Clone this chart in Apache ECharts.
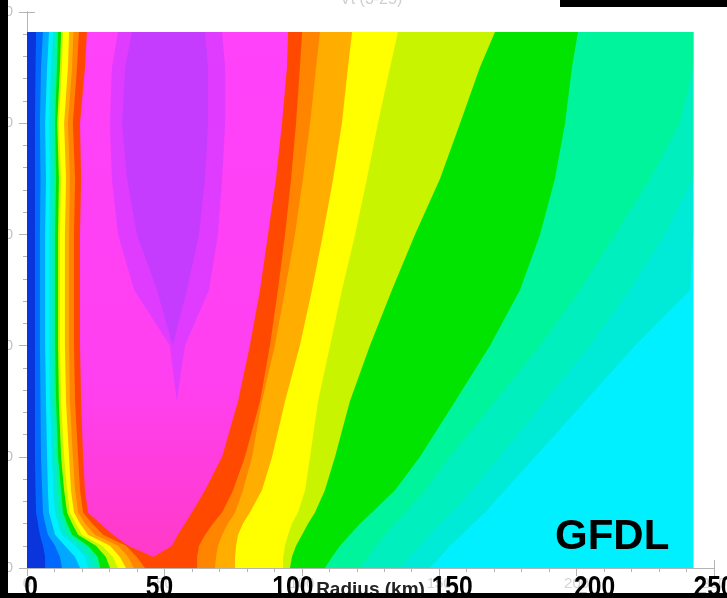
<!DOCTYPE html>
<html>
<head>
    <meta charset="utf-8">
    <title>GFDL radius-height</title>
    <script src="https://cdn.jsdelivr.net/npm/echarts@6/dist/echarts.min.js"></script>
    <style>
        body { margin: 0; background: #000; }
    </style>
</head>
<body>
    <div id="main" style="width: 727px;height:598px;"></div>

    <script type="text/javascript">
        // heights of the sampled rows, bottom to top
        var heights = [0, 1, 2, 3, 4, 5, 7, 10, 15, 20, 25, 30, 35, 40, 45, 48.2]
        var rMax = 242.4
        var zTop = 48.2
        var xTickValues = [0, 50, 100, 150, 200, 250]
        var xTickLabels = ['0', '50', '100', '150', '200', '250']
        var yTickLabels = ['0', '10', '20', '30', '40', '50']

        // radius (km) where each colour band starts (inner edge) and ends (outer edge), per height
        var beyond = [250, 250, 250, 250, 250, 250, 250, 250, 250, 250, 250, 250, 250, 250, 250, 250]
        var axisEdge = [0, 0, 0, 0, 0, 0, 0, 0, 0, 0, 0, 0, 0, 0, 0, 0]
        var inBlue = [6.6, 6.6, 5.8, 4.7, 4.0, 3.3, 3.1, 2.9, 2.9, 2.9, 2.9, 2.9, 2.9, 2.9, 3.1, 3.3]
        var inLightBlue = [12.7, 12.0, 10.2, 7.6, 6.6, 5.8, 5.5, 5.1, 4.9, 4.7, 4.7, 4.7, 4.9, 4.7, 5.1, 5.8]
        var inCyan = [19.3, 17.5, 13.8, 10.2, 9.1, 8.0, 7.6, 7.3, 6.9, 6.6, 6.6, 6.6, 6.9, 6.6, 7.3, 8.0]
        var inTurquoise = [22.2, 21.1, 17.5, 12.7, 11.3, 10.2, 9.5, 9.1, 8.4, 8.0, 8.0, 8.0, 8.4, 8.0, 8.7, 9.5]
        var outTurquoise = [146.6, 150.3, 153.9, 158.3, 162.3, 166.7, 173.9, 184.9, 203.1, 221.3, 241.3, 250, 250, 250, 250, 250]
        var inAqua = [24.0, 22.9, 19.3, 14.2, 12.7, 11.3, 10.6, 9.8, 9.1, 8.7, 8.7, 8.7, 9.1, 8.7, 9.5, 10.2]
        var outAqua = [135.7, 139.4, 143.0, 146.6, 150.3, 154.7, 161.9, 172.1, 188.5, 204.9, 219.4, 232.2, 250, 250, 250, 250]
        var inSpring = [25.5, 24.4, 20.7, 15.3, 13.5, 12.0, 11.3, 10.6, 9.8, 9.5, 9.5, 9.5, 9.8, 9.5, 10.2, 10.6]
        var outSpring = [121.2, 124.1, 127.0, 130.3, 133.9, 137.6, 144.8, 153.9, 170.3, 186.7, 201.2, 214.0, 226.7, 237.6, 250, 250]
        var inGreen = [26.6, 25.8, 22.2, 16.4, 14.6, 13.1, 12.4, 11.3, 10.6, 10.2, 10.2, 10.2, 10.6, 10.2, 10.9, 11.3]
        var outGreen = [108.4, 111.0, 113.9, 117.5, 121.2, 125.5, 133.9, 143.0, 155.8, 168.5, 179.4, 186.7, 192.1, 195.8, 198.3, 200.5]
        var inLime = [30.2, 28.7, 25.1, 18.6, 16.4, 14.6, 13.5, 12.4, 11.6, 11.3, 11.3, 11.3, 11.6, 11.0, 12.0, 12.4]
        var outLime = [95.7, 96.4, 97.9, 100.1, 102.3, 104.8, 108.4, 112.1, 117.5, 124.8, 132.8, 141.2, 150.3, 157.6, 164.8, 170.3]
        var inYellow = [33.1, 31.3, 27.3, 20.0, 17.8, 15.6, 14.6, 13.5, 12.4, 12.0, 12.0, 12.0, 12.4, 11.6, 12.7, 13.1]
        var outYellow = [93.2, 93.2, 93.9, 95.0, 96.4, 98.6, 101.2, 103.0, 105.9, 110.3, 114.6, 119.4, 123.7, 127.7, 132.1, 135.0]
        var inAmber = [36.0, 33.8, 30.2, 22.2, 19.3, 17.1, 16.0, 15.3, 14.2, 13.8, 13.8, 13.8, 14.2, 13.5, 14.9, 15.3]
        var outAmber = [75.7, 75.7, 76.1, 76.8, 78.6, 81.1, 85.5, 89.2, 93.9, 99.3, 103.7, 107.7, 111.4, 114.6, 116.8, 118.3]
        var inOrange = [38.9, 36.8, 33.1, 24.7, 21.1, 18.6, 17.5, 16.7, 15.6, 15.3, 15.3, 15.3, 15.6, 14.9, 16.4, 16.9]
        var outOrange = [68.4, 68.8, 69.5, 71.0, 73.1, 75.7, 78.6, 81.9, 85.5, 90.2, 93.9, 97.5, 100.4, 103.0, 105.2, 106.6]
        var inRed = [42.9, 40.0, 36.0, 27.7, 23.7, 20.4, 19.3, 18.6, 17.5, 17.1, 17.1, 17.1, 17.5, 16.7, 18.2, 18.9]
        var outRed = [61.9, 61.9, 62.6, 64.8, 67.7, 71.0, 75.0, 79.3, 84.8, 88.4, 91.3, 93.9, 96.1, 97.9, 99.3, 100.1]
        var inMagenta = [46.0, 46.0, 36.8, 31.3, 26.6, 22.2, 21.1, 20.4, 19.7, 19.3, 19.3, 19.3, 19.7, 19.3, 21.1, 21.8]
        var outMagenta = [46.0, 46.0, 52.8, 54.9, 57.5, 60.0, 64.8, 71.0, 76.8, 81.1, 84.8, 87.7, 90.6, 92.8, 94.6, 95.0]
        var inViolet = [54.5, 54.5, 54.5, 54.5, 54.5, 54.5, 54.5, 54.5, 54.5, 52.0, 39.0, 33.1, 30.9, 30.2, 30.9, 33.1]
        var outViolet = [54.5, 54.5, 54.5, 54.5, 54.5, 54.5, 54.5, 54.5, 54.5, 57.5, 66.2, 69.5, 71.0, 72.1, 72.1, 71.0]
        var inPurple = [53.0, 53.0, 53.0, 53.0, 53.0, 53.0, 53.0, 53.0, 53.0, 53.0, 47.3, 40.0, 36.4, 34.6, 35.7, 38.2]
        var outPurple = [53.0, 53.0, 53.0, 53.0, 53.0, 53.0, 53.0, 53.0, 53.0, 53.0, 58.2, 62.6, 64.8, 65.9, 65.9, 64.8]

        // the strongest pink band turns a little rosier towards the surface
        var pinkFill = new echarts.graphic.LinearGradient(0, 0, 0, 1, [
            {offset: 0, color: '#ff42fb'},
            {offset: 0.65, color: '#ff40f0'},
            {offset: 1, color: '#ff3ac6'}
        ])

        // bands painted from weakest to strongest wind
        var bands = [
            {color: '#0a34dc', inner: axisEdge, outer: beyond},
            {color: '#0068ff', inner: inBlue, outer: beyond},
            {color: '#00a8ff', inner: inLightBlue, outer: beyond},
            {color: '#00f0ff', inner: inCyan, outer: beyond},
            {color: '#00ead8', inner: inTurquoise, outer: outTurquoise},
            {color: '#00efbe', inner: inAqua, outer: outAqua},
            {color: '#00f49c', inner: inSpring, outer: outSpring},
            {color: '#00e400', inner: inGreen, outer: outGreen},
            {color: '#c8f400', inner: inLime, outer: outLime},
            {color: '#ffff00', inner: inYellow, outer: outYellow},
            {color: '#ffae00', inner: inAmber, outer: outAmber},
            {color: '#ff8400', inner: inOrange, outer: outOrange},
            {color: '#ff4800', inner: inRed, outer: outRed},
            {color: pinkFill, inner: inMagenta, outer: outMagenta},
            {color: '#e03cff', inner: inViolet, outer: outViolet},
            {color: '#c63cff', inner: inPurple, outer: outPurple},
        ]

        var renderBand = function (params, api) {
            var band = bands[params.dataIndex]
            var points = []
            for (var j = 0; j < heights.length; j++) {
                points.push(api.coord([Math.min(band.inner[j], rMax), Math.min(heights[j], zTop)]))
            }
            for (var k = heights.length - 1; k >= 0; k--) {
                points.push(api.coord([Math.min(band.outer[k], rMax), Math.min(heights[k], zTop)]))
            }
            return {
                type: 'polygon',
                shape: {points: points},
                style: {fill: band.color}
            }
        }

        var frameLine = {lineStyle: {color: '#b4b4b4', width: 1}}
        var frameTick = {inside: true, length: 8, lineStyle: {color: '#b4b4b4'}}
        var frameMinor = {show: true, splitNumber: 5, length: 4, lineStyle: {color: '#b4b4b4'}}
        // the big hand-written radius labels sit a little off their ticks
        var bigLabelShift = [4, -5, -9, 13, 18, 0]

        var myChart = echarts.init(document.getElementById('main'))
        var option = {
            backgroundColor: '#ffffff',
            animation: false,
            title: {
                text: 'Vt (3-25)',
                left: 335,
                top: -13,
                textStyle: {color: '#cfcfcf', fontSize: 16, fontWeight: 'normal'}
            },
            grid: {left: 27, right: 13, top: 12, bottom: 30, outerBoundsMode: 'none', containLabel: false},
            xAxis: [
                {
                    type: 'value', min: 0, max: 250, interval: 50, position: 'bottom',
                    axisLine: frameLine, axisTick: frameTick, minorTick: frameMinor,
                    splitLine: {show: false},
                    axisLabel: {color: '#d4d4d4', fontSize: 15, margin: 8},
                    name: 'Radius (km)', nameLocation: 'middle', nameGap: 12, nameMoveOverlap: false,
                    nameTextStyle: {color: '#222', fontSize: 19, fontWeight: 'bold', fontFamily: 'Liberation Sans'}
                },
                {
                    type: 'value', min: 0, max: 250, interval: 50, position: 'top',
                    axisLine: frameLine, axisTick: frameTick, minorTick: frameMinor,
                    splitLine: {show: false},
                    axisLabel: {show: false}
                }
            ],
            yAxis: [
                {
                    type: 'value', min: 0, max: 50, interval: 10, position: 'left',
                    axisLine: frameLine, axisTick: frameTick, minorTick: frameMinor,
                    splitLine: {show: false},
                    axisLabel: {
                        color: '#c4c4c4', fontSize: 15, margin: 14,
                        formatter: function (value) { return yTickLabels[Math.round(value / 10)] }
                    }
                },
                {
                    type: 'value', min: 0, max: 50, interval: 10, position: 'right',
                    axisLine: frameLine, axisTick: frameTick, minorTick: frameMinor,
                    splitLine: {show: false},
                    axisLabel: {show: false}
                }
            ],
            graphic: [
                {type: 'rect', z: 100, shape: {x: 0, y: 0, width: 8, height: 598}, style: {fill: '#000'}},
                {type: 'rect', z: 100, shape: {x: 0, y: 593, width: 727, height: 5}, style: {fill: '#000'}},
                {type: 'rect', z: 100, shape: {x: 560, y: 0, width: 167, height: 7}, style: {fill: '#000'}},
                {
                    type: 'text', z: 100, left: 555, top: 516,
                    style: {text: 'GFDL', fill: '#000', font: 'bold 42px "Liberation Sans", Arial, sans-serif'}
                }
            ],
            series: [
                {
                    type: 'custom',
                    coordinateSystem: 'cartesian2d',
                    xAxisIndex: 0,
                    yAxisIndex: 0,
                    renderItem: renderBand,
                    data: bands.map(function (b, i) { return [i, 0] }),
                    silent: true
                }
            ]
        }
        myChart.setOption(option)

        // big narrow radius labels, placed on the axis scale
        var baseY = myChart.convertToPixel({yAxisIndex: 0}, 0)
        var bigLabels = xTickValues.map(function (v, i) {
            var px = myChart.convertToPixel({xAxisIndex: 0}, v) + bigLabelShift[i]
            return {
                type: 'text', z: 90, x: px, y: baseY + 5, scaleX: 0.82,
                style: {
                    text: xTickLabels[i], fill: '#000',
                    font: 'bold 30px "Liberation Sans", Arial, sans-serif',
                    textAlign: 'center', textVerticalAlign: 'top'
                }
            }
        })
        myChart.setOption({graphic: option.graphic.concat(bigLabels)})
    </script>
</body>
</html>
